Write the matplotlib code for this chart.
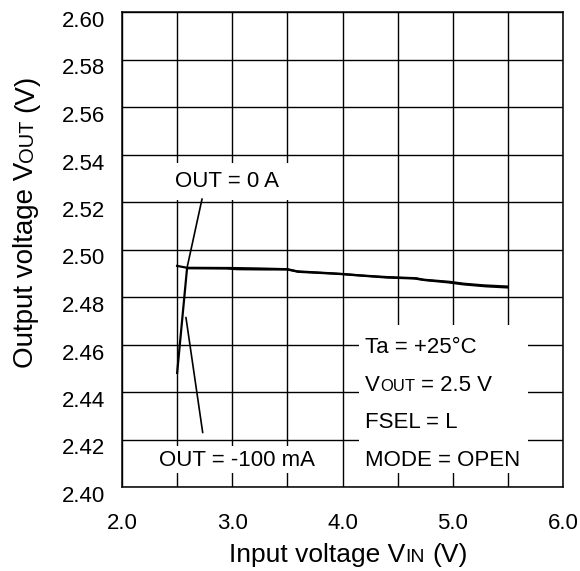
import matplotlib
matplotlib.use("Agg")
import matplotlib.pyplot as plt
from matplotlib.patches import Rectangle
from matplotlib.transforms import ScaledTranslation

FONT = ["Liberation Sans", "DejaVu Sans"]
plt.rcParams["font.family"] = FONT

# ---- data ----
vin_0a = [2.50, 2.59, 3.00, 3.25, 3.50, 3.59, 3.89, 4.00, 4.19, 4.40, 4.67, 4.73, 4.97, 5.10, 5.28, 5.50]
vout_0a = [2.4931, 2.4923, 2.4922, 2.4920, 2.4917, 2.4908, 2.4900, 2.4897, 2.4890, 2.4884,
           2.4879, 2.4873, 2.4864, 2.4856, 2.4849, 2.4844]
vin_100ma = [2.50, 2.59, 2.95, 3.05, 3.30, 3.50, 3.60, 3.90, 4.00, 4.20, 4.40, 4.65, 4.75,
             4.95, 5.10, 5.30, 5.50]
vout_100ma = [2.4480, 2.4921, 2.4920, 2.4917, 2.4916, 2.4916, 2.4906, 2.4899, 2.4896, 2.4889,
              2.4882, 2.4878, 2.4871, 2.4862, 2.4853, 2.4845, 2.4840]

x_ticks = [2.0, 3.0, 4.0, 5.0, 6.0]
x_tick_labels = ["2.0", "3.0", "4.0", "5.0", "6.0"]
x_grid = [2.0, 2.5, 3.0, 3.5, 4.0, 4.5, 5.0, 5.5, 6.0]
y_ticks = [2.40, 2.42, 2.44, 2.46, 2.48, 2.50, 2.52, 2.54, 2.56, 2.58, 2.60]
y_tick_labels = ["2.40", "2.42", "2.44", "2.46", "2.48", "2.50", "2.52", "2.54", "2.56", "2.58", "2.60"]

label_0a = "OUT = 0 A"
label_100ma = "OUT = -100 mA"
conditions = [
    [("Ta = +25°C", 16)],
    [("V", 16), ("OUT", 12), (" ", 16), ("= 2.5 V", 16)],
    [("FSEL = L", 16)],
    [("MODE = OPEN", 16)],
]
xlabel_parts = [("Input voltage V", 19), ("IN", 14), (" ", 19), ("(V)", 19)]
ylabel_parts = [("Output voltage V", 20), ("OUT", 14.5), (" ", 20), ("(V)", 20)]

# ---- figure ----
W, H, DPI = 580, 571, 100
fig = plt.figure(figsize=(W / DPI, H / DPI), dpi=DPI, facecolor="white")
ax = fig.add_axes([122 / W, 1 - 487 / H, 441 / W, 475 / H])
ax.set_xlim(2.0, 6.0)
ax.set_ylim(2.40, 2.60)
ax.set_xticks(x_ticks)
ax.set_xticklabels(x_tick_labels)
ax.set_xticks(x_grid, minor=True)
ax.set_yticks(y_ticks)
ax.set_yticklabels(y_tick_labels)
ax.tick_params(which="both", length=0)
ax.tick_params(axis="x", pad=19, labelsize=16)
ax.tick_params(axis="y", pad=12, labelsize=16)
ax.grid(True, which="both", color="black", lw=1.0)
ax.set_axisbelow(True)
for sp in ax.spines.values():
    sp.set_linewidth(1.1)
    sp.set_color("black")

shift = ScaledTranslation(0, -7 / DPI, fig.dpi_scale_trans)
for lab in ax.get_yticklabels():
    lab.set_transform(lab.get_transform() + shift)

# white backgrounds behind labels (hide grid)
ax.add_patch(Rectangle((2.435, 2.5208), 1.107, 0.0157, fc="white", ec="none", zorder=1))
ax.add_patch(Rectangle((2.272, 2.4058), 1.569, 0.0113, fc="white", ec="none", zorder=1))
ax.add_patch(Rectangle((4.150, 2.4059), 1.533, 0.0623, fc="white", ec="none", zorder=1))

# curves
ax.plot(vin_100ma, vout_100ma, color="black", lw=1.6, zorder=3)
ax.plot(vin_0a, vout_0a, color="black", lw=1.6, zorder=3)

# leader lines
lp = dict(arrowstyle="-", color="black", lw=1.2, shrinkA=0, shrinkB=0)
ax.annotate("", xy=(vin_0a[1], vout_0a[1]), xytext=(2.726, 2.5213), arrowprops=lp, zorder=4)
ax.annotate("", xy=(2.580, 2.4714), xytext=(2.732, 2.4229), arrowprops=lp, zorder=4)

ax.text(2.48, 2.5262, label_0a, fontsize=16, ha="left", va="baseline", zorder=5)
ax.text(2.336, 2.4090, label_100ma, fontsize=16, ha="left", va="baseline", zorder=5)

renderer = fig.canvas.get_renderer()


def text_width(s, size):
    t = fig.text(0, 0, s, fontsize=size)
    w = t.get_window_extent(renderer=renderer).width
    t.remove()
    return w


def rich(xd, yd, parts, rotation=0):
    """xd, yd in display pixels (origin bottom-left), baseline start point."""
    pos = 0.0
    for s, size in parts:
        if s == " ":
            pos += 0.278 * size * DPI / 72
            continue
        if rotation == 0:
            px, py = xd + pos, yd
        else:
            px, py = xd, yd + pos
        fig.text(px / W, py / H, s, fontsize=size, ha="left", va="baseline",
                 rotation=rotation, rotation_mode="anchor", zorder=5)
        pos += text_width(s, size)


cond_x = 4.204
cond_y = [2.4564, 2.4405, 2.4247, 2.4090]
for parts, yv in zip(conditions, cond_y):
    xd, yd = ax.transData.transform((cond_x, yv))
    rich(xd, yd, parts)

rich(229, H - 562, xlabel_parts)
rich(33, H - 368, ylabel_parts, rotation=90)

fig.savefig("out.png", dpi=DPI, facecolor="white")
